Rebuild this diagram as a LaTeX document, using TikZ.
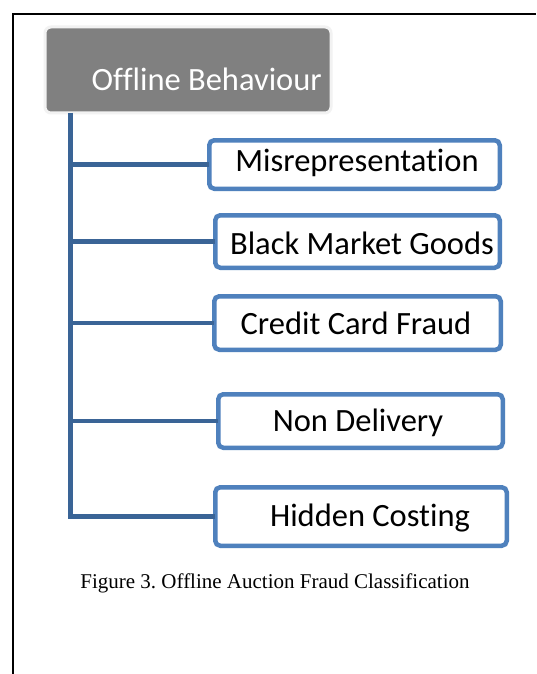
\documentclass[tikz,border=0pt]{standalone}
\usepackage{fontspec}
\setmainfont{Carlito}[RawFeature=-liga]
\newfontfamily\capfont{Liberation Serif}
\definecolor{boxblue}{HTML}{4F81BD}
\definecolor{linkblue}{HTML}{3A6496}
\definecolor{headgray}{HTML}{808080}
\tikzset{
  catbox/.style={draw=boxblue, line width=4.5pt, rounded corners=5pt, fill=white,
    inner sep=0pt, outer sep=0pt},
  cattext/.style={font=\fontsize{32.5}{32.5}\selectfont, inner sep=0pt},
  headbox/.style={fill=headgray, draw=black!5, line width=3pt, rounded corners=6pt,
    inner sep=0pt, outer sep=0pt, minimum width=286pt, minimum height=86pt},
  conn/.style={draw=linkblue, line width=4.5pt},
  frameline/.style={draw=black, line width=2pt}
}
\frenchspacing
\begin{document}
\begin{tikzpicture}[x=1pt,y=-1pt]
\useasboundingbox (0,0) rectangle (536,674);
\fill[white] (0,0) rectangle (536,674);
% page frame
\draw[frameline] (13,674) -- (13,14) -- (536,14);
% heading box
\node[headbox] (off) at (188,70) {};
\node[cattext, text=white, anchor=base east] (offt) at (322,91) {Offline Behaviour};
\coordinate (trunk) at (70.5,113);
% category boxes
\node[catbox, minimum width=290.5pt, minimum height=48.5pt] (mis) at (354.5,164.5) {};
\node[catbox, minimum width=284.5pt, minimum height=52.5pt] (bmg) at (357.5,241.5) {};
\node[catbox, minimum width=286.5pt, minimum height=53.5pt] (ccf) at (357.5,323) {};
\node[catbox, minimum width=284.5pt, minimum height=53.5pt] (nod) at (360.5,421) {};
\node[catbox, minimum width=291.5pt, minimum height=58.5pt] (hid) at (361,516.5) {};
% connectors
\draw[conn] (trunk) |- (hid.west);
\foreach \b in {mis,bmg,ccf,nod}
  \draw[conn] (\b.west -| trunk) -- (\b.west);
% labels
\node[cattext] (mist) at (357,163) {Misrepresentation};
\node[cattext] (bmgt) at (362,243) {Black Market Goods};
\node[cattext] (ccft) at (356,323) {Credit Card Fraud};
\node[cattext] (nodt) at (358,423) {Non Delivery};
\node[cattext] (hidt) at (370,518) {Hidden Costing};
% caption
\node[font=\capfont\fontsize{21}{21}\selectfont, inner sep=0pt] (cap) at (275,583)
  {Figure 3. Offline Auction Fraud Classification};
\end{tikzpicture}
\end{document}
